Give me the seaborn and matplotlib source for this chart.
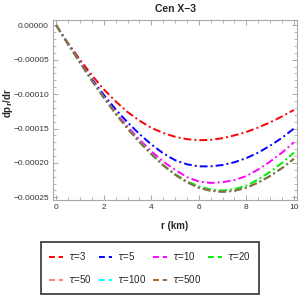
import matplotlib
matplotlib.use('Agg')
import matplotlib.pyplot as plt
import numpy as np
import pandas as pd
import seaborn as sns
from matplotlib.ticker import MultipleLocator, FuncFormatter

sns.set_style('ticks')
plt.rcParams['font.family'] = ['Liberation Sans', 'DejaVu Sans']

r = [0, 0.5, 1, 1.5, 2, 2.5, 3, 3.5, 4, 4.5, 5, 5.5, 6, 6.5, 7, 7.5, 8, 8.5, 9, 9.5, 10]
taus = ['3', '5', '10', '20', '50', '100', '500']
colors = ['#ff0000', '#0000ff', '#ff00ff', '#00ee00', '#ff8080', '#00ffff', '#996633']

# dp_r/dr in units of 1e-5
tau3 = [0, -2.6, -5.0, -7.25, -9.3, -11.05, -12.6, -13.85, -14.9, -15.65, -16.2,
        -16.55, -16.7, -16.65, -16.4, -16.0, -15.5, -14.85, -14.1, -13.25, -12.3]
tau5 = [0, -2.7, -5.3, -7.8, -10.1, -12.2, -14.1, -15.8, -17.3, -18.6, -19.6,
        -20.2, -20.5, -20.5, -20.3, -19.9, -19.3, -18.5, -17.5, -16.35, -15.0]
tau10 = [0, -2.75, -5.4, -8.0, -10.4, -12.65, -14.7, -16.6, -18.3, -19.8, -21.0,
         -22.05, -22.7, -22.9, -22.8, -22.5, -21.9, -20.95, -19.8, -18.5, -17.0]
tau20 = [0, -2.75, -5.4, -8.05, -10.5, -12.85, -15.0, -16.95, -18.7, -20.3, -21.6,
         -22.65, -23.4, -23.85, -24.0, -23.8, -23.3, -22.4, -21.3, -20.0, -18.5]
tau50 = [0, -2.75, -5.4, -8.05, -10.5, -12.85, -15.0, -16.95, -18.7, -20.35, -21.7,
         -22.8, -23.6, -24.05, -24.2, -24.05, -23.6, -22.85, -21.9, -20.75, -19.4]
tau100 = [0, -2.75, -5.4, -8.05, -10.5, -12.85, -15.0, -16.95, -18.7, -20.35, -21.7,
          -22.8, -23.6, -24.05, -24.2, -24.05, -23.6, -22.85, -21.9, -20.75, -19.4]
tau500 = [0, -2.75, -5.4, -8.05, -10.5, -12.85, -15.0, -16.95, -18.7, -20.35, -21.7,
          -22.8, -23.6, -24.05, -24.2, -24.05, -23.6, -22.85, -21.9, -20.75, -19.4]

series = [tau3, tau5, tau10, tau20, tau50, tau100, tau500]
rows = []
for t, vals in zip(taus, series):
    for x, v in zip(r, vals):
        rows.append({'r': x, 'dp': v * 1e-5, 'tau': r'$\tau$=' + t})
df = pd.DataFrame(rows)

fig = plt.figure(figsize=(3, 3), dpi=100)
ax = fig.add_axes([0.177, 0.333, 0.813, 0.6])

dash = [4, 1.6, 1, 1.6]
sns.lineplot(data=df, x='r', y='dp', hue='tau', palette=colors, ax=ax,
             linewidth=1.4, legend=False)
for line in ax.get_lines():
    line.set_dashes(dash)

ax.set_xlim(-0.13, 10.13)
ax.set_ylim(-0.000254, 0.0000075)
ax.xaxis.set_major_locator(MultipleLocator(2))
ax.xaxis.set_minor_locator(MultipleLocator(0.5))
ax.yaxis.set_major_locator(MultipleLocator(0.00005))
ax.yaxis.set_minor_locator(MultipleLocator(0.00001))
ax.yaxis.set_major_formatter(FuncFormatter(lambda v, p: ('%.5f' % v).replace('-', '\u2212')))
ax.tick_params(which='both', direction='in', top=True, right=True, color='#999999',
               labelsize=6, labelcolor='#333333', pad=3)
ax.tick_params(which='major', length=3.5, width=0.6)
ax.tick_params(which='minor', length=2, width=0.5)
for s in ax.spines.values():
    s.set_color('#aaaaaa')
    s.set_linewidth(0.8)

ax.set_title('Cen X\u22123', fontsize=7.5, fontweight='bold', pad=6)
ax.set_xlabel('r (km)', fontsize=7, fontweight='bold', labelpad=7)
ax.set_ylabel(r'dp$_\mathbf{r}$/dr', fontsize=7, fontweight='bold')
ax.yaxis.set_label_coords(-0.155, 0.54)

# row-major order for a 4-column legend
order = [0, 4, 1, 5, 2, 6, 3]
handles = [plt.Line2D([], [], color=colors[i], linewidth=1.4, dashes=[3, 2]) for i in order]
labels = [r'$\tau$=' + taus[i] for i in order]
leg = fig.legend(handles, labels, ncol=4, loc='center', bbox_to_anchor=(0.5, 0.108),
                 fontsize=7, frameon=True, fancybox=False, handlelength=1.4,
                 columnspacing=0.7, handletextpad=0.5, borderpad=0.9, labelspacing=1.1)
leg.get_frame().set_edgecolor('black')
leg.get_frame().set_linewidth(1.2)

fig.savefig('out.png', dpi=100)
